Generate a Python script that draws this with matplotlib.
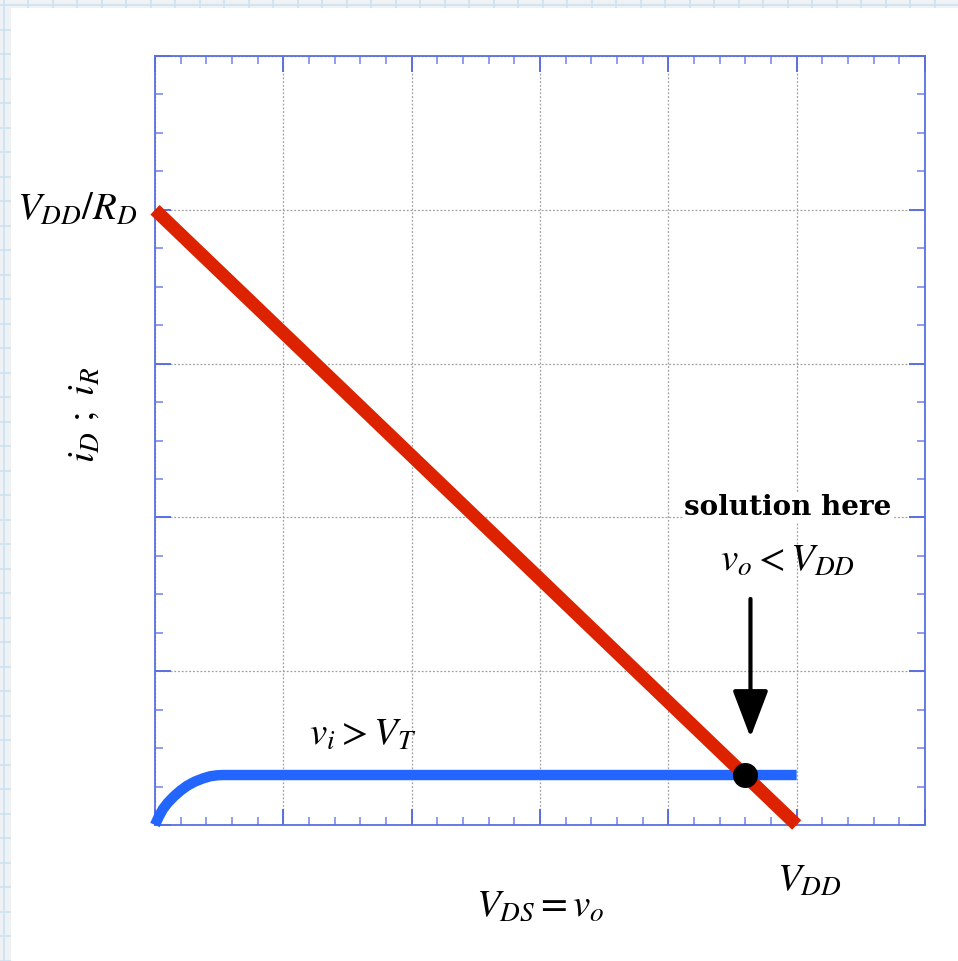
import numpy as np
import matplotlib
matplotlib.use("Agg")
import matplotlib.pyplot as plt
from matplotlib.patches import Rectangle
from matplotlib.ticker import MultipleLocator

plt.rcParams['mathtext.fontset'] = 'stix'
plt.rcParams['font.family'] = ['Liberation Serif', 'DejaVu Serif']

# load line: i_R = (VDD - vDS) / RD, with VDD = 5 and VDD/RD = 4
load_v = [0.0, 5.0]
load_i = [4.0, 0.0]

# transistor curve for v_i > V_T (triode rise, then saturation)
mos_v = [0.0, 0.03, 0.062, 0.10, 0.15, 0.195, 0.25, 0.31, 0.374, 0.43, 0.483, 0.53, 5.0]
mos_i = [0.0, 0.055, 0.104, 0.145, 0.188, 0.221, 0.255, 0.282, 0.303, 0.317, 0.323, 0.325, 0.325]

# operating point
op_v = 4.594
op_i = 0.325

W, H = 958, 962
fig = plt.figure(figsize=(W / 100, H / 100), dpi=100)
fig.patch.set_facecolor('#eef2f5')

# graph-paper backdrop with a white sheet on top
bg = fig.add_axes([0, 0, 1, 1], zorder=-5)
bg.set_xlim(0, W)
bg.set_ylim(H, 0)
bg.axis('off')
for x in np.arange(4, W, 24.5):
    bg.axvline(x, color='#cde2f0', lw=1.2)
for y in np.arange(6, H, 24.5):
    bg.axhline(y, color='#cde2f0', lw=1.2)
bg.add_patch(Rectangle((11, 9), W, H, facecolor='white', edgecolor='none', zorder=10))

ax = fig.add_axes([155 / W, 1 - 826 / H, 770 / W, 769 / H])
ax.set_xlim(0, 6)
ax.set_ylim(0, 5)
ax.set_facecolor('none')

spine_col = '#5a6fe0'
for s in ax.spines.values():
    s.set_color(spine_col)
    s.set_linewidth(1.3)

ax.xaxis.set_major_locator(MultipleLocator(1))
ax.xaxis.set_minor_locator(MultipleLocator(0.2))
ax.yaxis.set_major_locator(MultipleLocator(1))
ax.yaxis.set_minor_locator(MultipleLocator(0.25))
ax.tick_params(which='both', direction='in', top=True, right=True,
               labelbottom=False, labelleft=False)
ax.tick_params(which='major', length=11.5, width=1.4, color=spine_col)
ax.tick_params(which='minor', length=5.8, width=1.4, color='#8d9eee')
ax.grid(True, which='major', color='#a0a0a0', ls=(0, (1.5, 1.5)), lw=0.9)

ax.plot(mos_v, mos_i, color='#2266ff', lw=7.5, solid_capstyle='butt',
        solid_joinstyle='round', clip_on=False, zorder=3)
ax.plot(load_v, load_i, color='#dd2200', lw=9.5, solid_capstyle='butt',
        clip_on=False, zorder=4)
ax.plot([op_v], [op_i], 'o', color='black', ms=17, zorder=5)

ax.annotate('', xy=(4.64, 0.57), xytext=(4.64, 1.47),
            arrowprops=dict(arrowstyle='-|>,head_length=1.45,head_width=0.55',
                            mutation_scale=20, color='black', lw=3,
                            shrinkA=0, shrinkB=0))

fs = 28
ax.text(-0.14, 4.0, r'$V_{DD}/R_D$', fontsize=fs, ha='right', va='center')
ax.text(-0.55, 2.67, r'$i_D\ ;\ i_R$', fontsize=fs, ha='center', va='center',
        rotation=90)
ax.text(3.0, -0.52, r'$V_{DS}=v_o$', fontsize=fs, ha='center', va='center')
ax.text(5.1, -0.36, r'$V_{DD}$', fontsize=fs, ha='center', va='center')
ax.text(1.62, 0.59, r'$v_i>V_T$', fontsize=fs, ha='center', va='center')
ax.text(4.93, 2.07, 'solution here', fontsize=20, fontweight='bold',
        family='DejaVu Serif', ha='center', va='center',
        bbox=dict(facecolor='white', edgecolor='none', pad=1))
ax.text(4.93, 1.72, r'$v_o<V_{DD}$', fontsize=fs, ha='center', va='center')

fig.savefig('out.png', dpi=100)
